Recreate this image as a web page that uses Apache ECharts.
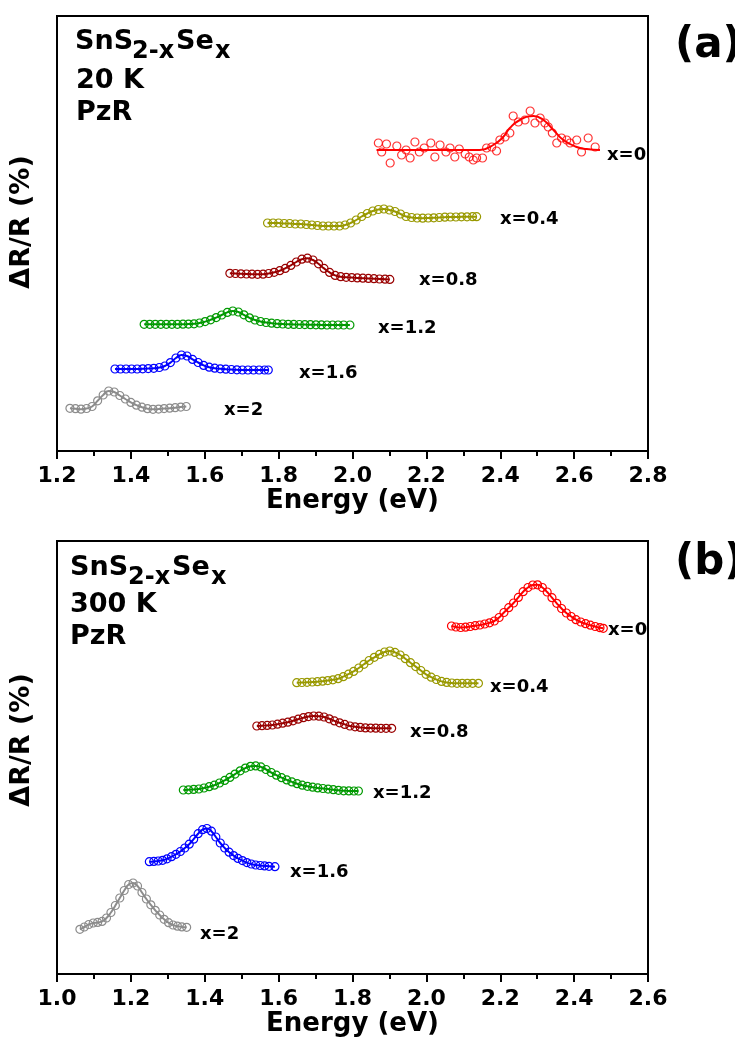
<!DOCTYPE html>
<html>
<head>
<meta charset="utf-8">
<title>SnS2-xSex PzR spectra</title>
<script src="https://cdn.jsdelivr.net/npm/echarts@6/dist/echarts.min.js"></script>
<style>
  html, body { margin: 0; padding: 0; background: #fff; }
  #chart { width: 735px; height: 1046px; }
</style>
</head>
<body>
<div id="chart"></div>
<script>
// axis ranges (eV)
const a_range = [1.2, 2.8]
const b_range = [1.0, 2.6]
const tickStep = 0.2

const curveNames = ['x=0', 'x=0.4', 'x=0.8', 'x=1.2', 'x=1.6', 'x=2']
const curveColors = ['#ff0000', '#999900', '#990000', '#009900', '#0000ff', '#8c8c8c']

// ---- (a) 20 K : [energy, dR/R offset (arb.)]
const a_x0 = [[2.070, 308], [2.079, 299], [2.092, 307], [2.102, 288], [2.120, 305], [2.133, 296], [2.145, 301], [2.156, 293],
  [2.169, 309], [2.181, 299], [2.194, 303], [2.212, 308], [2.223, 294], [2.237, 306], [2.253, 299], [2.264, 303],
  [2.277, 294], [2.289, 302], [2.305, 297], [2.316, 294], [2.327, 291], [2.336, 293], [2.352, 293], [2.363, 303],
  [2.377, 304], [2.390, 300], [2.399, 311], [2.413, 314], [2.426, 318], [2.435, 335], [2.449, 329], [2.467, 331],
  [2.481, 340], [2.494, 328], [2.508, 333], [2.521, 328], [2.530, 324], [2.541, 318], [2.553, 308], [2.566, 313],
  [2.580, 311], [2.589, 308], [2.607, 311], [2.620, 299], [2.638, 313], [2.657, 304]]
const a_x0_fit = [[2.065, 301], [2.15, 301], [2.25, 301], [2.345, 301], [2.381, 306], [2.408, 314], [2.426, 323],
  [2.453, 331], [2.490, 335], [2.517, 331], [2.544, 321], [2.571, 311], [2.607, 304], [2.634, 302], [2.670, 301]]
const a_x04 = [[1.770, 228], [1.785, 228], [1.800, 228], [1.815, 227.5], [1.830, 227.5], [1.845, 227], [1.860, 227],
  [1.875, 226.5], [1.890, 226], [1.905, 225.5], [1.920, 225], [1.935, 225], [1.950, 225], [1.965, 225], [1.980, 226],
  [1.995, 228], [2.010, 231], [2.025, 234.5], [2.040, 237.5], [2.055, 240], [2.070, 241.5], [2.085, 242], [2.100, 241],
  [2.115, 239.5], [2.130, 237], [2.145, 234.5], [2.160, 233.5], [2.175, 233], [2.190, 232.8], [2.205, 233], [2.220, 233.2],
  [2.235, 233.5], [2.250, 233.8], [2.265, 234], [2.280, 234], [2.295, 234.2], [2.310, 234.2], [2.325, 234.3], [2.336, 234.3]]
const a_x08 = [[1.668, 177.7], [1.683, 177.5], [1.698, 177.2], [1.713, 177], [1.728, 176.8], [1.743, 176.7], [1.758, 176.8],
  [1.773, 177.5], [1.788, 178.7], [1.803, 180.3], [1.818, 182.6], [1.833, 185.6], [1.848, 189], [1.863, 191.8], [1.878, 192.8],
  [1.893, 191], [1.908, 187.2], [1.923, 182.6], [1.938, 178.6], [1.953, 175.6], [1.968, 174.3], [1.983, 173.7], [1.998, 173.4],
  [2.013, 173.1], [2.028, 172.8], [2.043, 172.6], [2.058, 172.3], [2.073, 172], [2.088, 171.8], [2.101, 171.6]]
const a_x12 = [[1.436, 126.7], [1.451, 126.7], [1.466, 126.7], [1.481, 126.7], [1.496, 126.7], [1.511, 126.7], [1.526, 126.7],
  [1.541, 126.8], [1.556, 126.9], [1.571, 127.2], [1.586, 128], [1.601, 129.4], [1.616, 131.2], [1.631, 133.4], [1.646, 136],
  [1.661, 138.6], [1.676, 140], [1.691, 139], [1.706, 136.2], [1.721, 133.2], [1.736, 131], [1.751, 129.5], [1.766, 128.5],
  [1.781, 127.8], [1.796, 127.3], [1.811, 127], [1.826, 126.7], [1.841, 126.6], [1.856, 126.5], [1.871, 126.4], [1.886, 126.3],
  [1.901, 126.2], [1.916, 126.1], [1.931, 126], [1.946, 126], [1.961, 126], [1.976, 126], [1.993, 126]]
const a_x16 = [[1.357, 82], [1.372, 82], [1.387, 82], [1.402, 82], [1.417, 82], [1.432, 82.2], [1.447, 82.4], [1.462, 82.7],
  [1.477, 83.5], [1.492, 85], [1.507, 88.4], [1.522, 93], [1.537, 96], [1.552, 95], [1.567, 91.6], [1.582, 88.5], [1.597, 85.6],
  [1.612, 83.8], [1.627, 82.8], [1.642, 82.2], [1.657, 81.8], [1.672, 81.5], [1.687, 81.2], [1.702, 81], [1.717, 81],
  [1.732, 81], [1.747, 81], [1.762, 81], [1.772, 81]]
const a_x2 = [[1.235, 42.7], [1.250, 42.3], [1.265, 41.8], [1.280, 42.5], [1.295, 44.5], [1.310, 50.2], [1.325, 56], [1.340, 60],
  [1.355, 59], [1.370, 55.5], [1.385, 52], [1.400, 48.6], [1.415, 45.8], [1.430, 43.8], [1.445, 42.3], [1.460, 41.7],
  [1.475, 41.9], [1.490, 42.4], [1.505, 42.8], [1.520, 43.3], [1.535, 43.9], [1.550, 44.5]]

// ---- (b) 300 K
const b_x0 = [[2.068, 348], [2.080, 347], [2.093, 346.5], [2.106, 346.8], [2.119, 347.5], [2.132, 348.3], [2.145, 349],
  [2.158, 350], [2.171, 351.2], [2.184, 353], [2.197, 356.5], [2.210, 361.5], [2.223, 366.3], [2.236, 371], [2.249, 376.6],
  [2.262, 382.3], [2.275, 386.5], [2.288, 389], [2.301, 389.2], [2.314, 386.5], [2.327, 382], [2.340, 376.3], [2.353, 370.7],
  [2.366, 365.5], [2.379, 361], [2.392, 357.5], [2.405, 354.3], [2.418, 352], [2.431, 350.3], [2.444, 348.8], [2.457, 347.5],
  [2.470, 346.3], [2.479, 345.7]]
const b_x04 = [[1.649, 291.3], [1.663, 291.5], [1.677, 291.7], [1.691, 292], [1.705, 292.3], [1.719, 292.8], [1.733, 293.4],
  [1.747, 294.2], [1.761, 295.3], [1.775, 297.3], [1.789, 299.8], [1.803, 302.6], [1.817, 306], [1.831, 309.7], [1.845, 313.5],
  [1.859, 316.7], [1.873, 319.6], [1.887, 322], [1.901, 323], [1.915, 321.6], [1.929, 319], [1.943, 315.3], [1.957, 311.3],
  [1.971, 307.4], [1.985, 303.5], [1.999, 299.7], [2.013, 296.8], [2.027, 294.5], [2.041, 292.6], [2.055, 291.6], [2.069, 291],
  [2.083, 290.7], [2.097, 290.7], [2.111, 290.7], [2.125, 290.7], [2.141, 290.7]]
const b_x08 = [[1.541, 248], [1.555, 248.3], [1.569, 248.6], [1.583, 249], [1.597, 249.8], [1.611, 250.8], [1.625, 251.8],
  [1.639, 253.2], [1.653, 254.8], [1.667, 256.3], [1.681, 257.4], [1.695, 258], [1.709, 257.8], [1.723, 257], [1.737, 255.2],
  [1.751, 253.1], [1.765, 251.2], [1.779, 249.6], [1.793, 248], [1.807, 247.2], [1.821, 246.6], [1.835, 246.1], [1.849, 245.9],
  [1.863, 245.8], [1.877, 245.7], [1.891, 245.7], [1.906, 245.7]]
const b_x12 = [[1.342, 184], [1.356, 184.2], [1.370, 184.6], [1.384, 185], [1.398, 186], [1.412, 187.3], [1.426, 188.8],
  [1.440, 191], [1.454, 193.6], [1.468, 196.6], [1.482, 199.9], [1.496, 203.2], [1.510, 205.9], [1.524, 207.7], [1.538, 208.1],
  [1.552, 207.1], [1.566, 204.5], [1.580, 201.5], [1.594, 198.8], [1.608, 196.3], [1.622, 194.1], [1.636, 192.1], [1.650, 190.3],
  [1.664, 188.8], [1.678, 187.7], [1.692, 186.8], [1.706, 186.1], [1.720, 185.5], [1.734, 184.9], [1.748, 184.3], [1.762, 183.7],
  [1.776, 183.2], [1.790, 183.1], [1.804, 183], [1.816, 183]]
const b_x16 = [[1.250, 112.3], [1.262, 112.6], [1.274, 113], [1.286, 113.7], [1.298, 115.2], [1.310, 117.3], [1.322, 119.7],
  [1.334, 122.5], [1.346, 126], [1.358, 129.8], [1.370, 134.8], [1.382, 140.3], [1.394, 144.3], [1.406, 145.5], [1.418, 142.8],
  [1.430, 137], [1.442, 131], [1.454, 126], [1.466, 121.8], [1.478, 118.4], [1.490, 115.6], [1.502, 113.4], [1.514, 111.4],
  [1.526, 110], [1.538, 109], [1.550, 108.5], [1.562, 108.1], [1.574, 107.7], [1.590, 107.3]]
const b_x2 = [[1.062, 44.7], [1.074, 47], [1.086, 49.5], [1.098, 51], [1.110, 51.6], [1.122, 52.6], [1.134, 56], [1.146, 61.5],
  [1.158, 68.5], [1.170, 76], [1.182, 83.5], [1.194, 89.5], [1.206, 91], [1.218, 88], [1.230, 81.5], [1.242, 75], [1.254, 69.2],
  [1.266, 63.7], [1.278, 59], [1.290, 54.7], [1.302, 51.3], [1.314, 49], [1.326, 47.8], [1.338, 47.1], [1.351, 46.7]]

const FONT = '"DejaVu Sans", sans-serif'

function curve (data, color, idx) {
  return {
    type: 'line',
    xAxisIndex: idx,
    yAxisIndex: idx,
    data: data,
    smooth: true,
    symbol: 'circle',
    symbolSize: 8,
    lineStyle: { color: color, width: 2 },
    itemStyle: { color: 'rgba(255,255,255,0)', borderColor: color, borderWidth: 1.2 }
  }
}

function xAxis (idx, range) {
  return {
    type: 'value',
    gridIndex: idx,
    min: range[0],
    max: range[1],
    interval: tickStep,
    name: 'Energy (eV)',
    nameLocation: 'middle',
    nameGap: 32,
    nameTextStyle: { color: '#000', fontFamily: FONT, fontWeight: 'bold', fontSize: 26 },
    axisLine: { onZero: false, lineStyle: { color: '#000', width: 2 } },
    axisTick: { length: 8, lineStyle: { color: '#000', width: 2 } },
    minorTick: { show: true, splitNumber: 2, length: 5, lineStyle: { color: '#000', width: 2 } },
    axisLabel: {
      color: '#000', fontFamily: FONT, fontWeight: 'bold', fontSize: 22, margin: 14,
      showMinLabel: true, showMaxLabel: true,
      formatter: v => v.toFixed(1)
    },
    splitLine: { show: false }
  }
}

function yAxis (idx, max) {
  return {
    type: 'value',
    gridIndex: idx,
    min: 0,
    max: max,
    axisLine: { show: true, onZero: false, lineStyle: { color: '#000', width: 2 } },
    axisTick: { show: false },
    axisLabel: { show: false },
    splitLine: { show: false }
  }
}

function txt (text, x, y, size, extra) {
  return Object.assign({
    type: 'text',
    x: x,
    y: y,
    style: {
      text: text,
      fill: '#000',
      font: 'bold ' + size + 'px ' + FONT,
      verticalAlign: 'middle',
      textVerticalAlign: 'middle'
    }
  }, extra || {})
}

function rotated (text, x, y, size) {
  const t = txt(text, x, y, size, { rotation: Math.PI / 2 })
  t.style.align = 'center'
  t.style.textAlign = 'center'
  return t
}

// text positions (px) for the annotations of each panel
const a_labelPos = [[607, 155], [500, 219], [419, 280], [378, 328], [299, 373], [224, 410]]
const b_labelPos = [[608, 630], [490, 687], [410, 732], [373, 793], [290, 872], [200, 934]]

const graphics = [
  txt('SnS', 75, 42, 27), txt('2-x', 132, 52, 24), txt('Se', 176, 42, 27), txt('x', 215, 52, 24),
  txt('20 K', 76, 81, 27), txt('PzR', 76, 113, 27),
  txt('SnS', 70, 568, 27), txt('2-x', 128, 578, 24), txt('Se', 172, 568, 27), txt('x', 211, 578, 24),
  txt('300 K', 70, 605, 27), txt('PzR', 70, 637, 27),
  txt('(a)', 675, 46, 42), txt('(b)', 675, 563, 42),
  rotated('ΔR/R (%)', 22, 222, 27), rotated('ΔR/R (%)', 22, 740, 27)
]
curveNames.forEach((n, i) => {
  graphics.push(txt(n, a_labelPos[i][0], a_labelPos[i][1], 18))
  graphics.push(txt(n, b_labelPos[i][0], b_labelPos[i][1], 18))
})

const chart = echarts.init(document.getElementById('chart'))
const aSets = [a_x0, a_x04, a_x08, a_x12, a_x16, a_x2]
const bSets = [b_x0, b_x04, b_x08, b_x12, b_x16, b_x2]

const series = []
// (a) x=0 is noisy: open circles plus a separate fit line
series.push({
  type: 'scatter', xAxisIndex: 0, yAxisIndex: 0, data: a_x0,
  symbol: 'circle', symbolSize: 8,
  itemStyle: { color: 'rgba(255,255,255,0)', borderColor: curveColors[0], borderWidth: 1.2 }
})
series.push({
  type: 'line', xAxisIndex: 0, yAxisIndex: 0, data: a_x0_fit,
  smooth: true, showSymbol: false,
  lineStyle: { color: curveColors[0], width: 2 }
})
for (let i = 1; i < aSets.length; i++) series.push(curve(aSets[i], curveColors[i], 0))
for (let i = 0; i < bSets.length; i++) series.push(curve(bSets[i], curveColors[i], 1))

chart.setOption({
  animation: false,
  backgroundColor: '#fff',
  grid: [
    { left: 57, top: 16, width: 591, height: 435, show: true, borderColor: '#000', borderWidth: 2 },
    { left: 57, top: 541, width: 591, height: 433, show: true, borderColor: '#000', borderWidth: 2 }
  ],
  xAxis: [xAxis(0, a_range), xAxis(1, b_range)],
  yAxis: [yAxis(0, 435), yAxis(1, 433)],
  graphic: graphics,
  series: series
})
</script>
</body>
</html>
